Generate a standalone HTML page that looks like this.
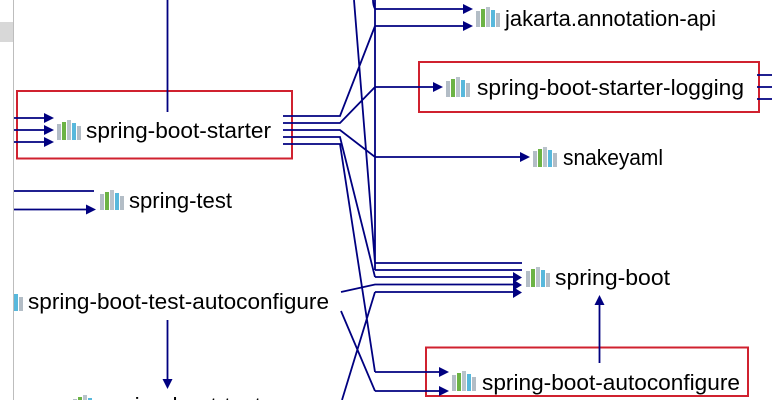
<!DOCTYPE html>
<html><head><meta charset="utf-8"><style>
html,body{margin:0;padding:0;background:#fff;width:772px;height:400px;overflow:hidden}
svg{display:block}
text{font-family:"Liberation Sans",sans-serif;font-size:22px;fill:#000}
.l{fill:none;stroke:#000080;stroke-width:1.8}
.a{fill:#000080}
.r{fill:none;stroke:#d0212f;stroke-width:2}
</style></head><body>
<svg width="772" height="400" viewBox="0 0 772 400" xmlns="http://www.w3.org/2000/svg">
<defs>
<g id="ic">
<rect x="0" y="4" width="4" height="16" fill="#b3bdc6"/>
<rect x="5" y="2" width="4" height="18" fill="#6cb345"/>
<rect x="10" y="0" width="4" height="20" fill="#b9c3cb"/>
<rect x="15" y="3" width="4" height="17" fill="#58b8dc"/>
<rect x="20" y="6" width="4" height="14" fill="#b3bdc6"/>
</g>
</defs>
<rect x="0" y="22" width="13" height="20" fill="#d8d8d8"/>
<rect x="13" y="0" width="1" height="400" fill="#bdbdbd"/>

<rect class="r" x="17" y="91" width="275" height="67.500"/>
<rect class="r" x="419" y="62" width="340" height="50"/>
<rect class="r" x="426" y="347.500" width="322" height="48.500"/>

<path class="l" d="M167.500 0V112M167.500 320V380M14 118H46M14 130H46M14 142H46M14 191H94M14 209.500H88
M283 116H340L375 26M283 123H340L375 87M283 130H340L375 157H521M283 137H340L375 277M283 144H340L375 372
M354 0L370 200L375 263M373 0Q373 5 375 9M375 0V270
M375 9H464M375 26H464M375 87H434M375 263H522M375 270H522M375 277H514M341 292L375 284.500H514M375 292H514M342 400L375 292
M341 311L375 391M375 372H440M375 391H440M757 75H772M757 87H772M757 99H772M599.500 363V303"/>

<path class="a" d="M44 113L54 118L44 123ZM44 125L54 130L44 135ZM44 137L54 142L44 147Z
M86 204.500L96 209.500L86 214.500Z
M463 4L473 9L463 14ZM463 21L473 26L463 31ZM433 82L443 87L433 92ZM520 152L530 157L520 162Z
M513 272L522 277.500L513 283ZM513 279.500L522 285L513 290.500ZM513 287L522 292.500L513 298Z
M439 367L449 372L439 377ZM439 386L449 391L439 396Z
M594.500 305L599.500 295L604.500 305ZM162.500 379L167.500 389L172.500 379Z"/>

<use href="#ic" x="57" y="120"/>
<use href="#ic" x="100" y="190"/>
<use href="#ic" x="476" y="7"/>
<use href="#ic" x="446" y="77"/>
<use href="#ic" x="533" y="147"/>
<use href="#ic" x="526" y="267"/>
<use href="#ic" x="452" y="371"/>
<use href="#ic" x="73" y="395"/>
<rect x="14" y="294" width="4" height="17" fill="#58b8dc"/>
<rect x="19" y="297" width="4" height="14" fill="#b3bdc6"/>

<text x="86" y="138" textLength="185" lengthAdjust="spacingAndGlyphs">spring-boot-starter</text>
<text x="129" y="208" textLength="103" lengthAdjust="spacingAndGlyphs">spring-test</text>
<text x="28" y="309" textLength="301" lengthAdjust="spacingAndGlyphs">spring-boot-test-autoconfigure</text>
<text x="103" y="413" textLength="158" lengthAdjust="spacingAndGlyphs">spring-boot-test</text>
<text x="505" y="26" textLength="211" lengthAdjust="spacingAndGlyphs">jakarta.annotation-api</text>
<text x="477" y="95" textLength="267" lengthAdjust="spacingAndGlyphs">spring-boot-starter-logging</text>
<text x="563" y="165" textLength="100" lengthAdjust="spacingAndGlyphs">snakeyaml</text>
<text x="555" y="285" textLength="115" lengthAdjust="spacingAndGlyphs">spring-boot</text>
<text x="482" y="390" textLength="258" lengthAdjust="spacingAndGlyphs">spring-boot-autoconfigure</text>
</svg>
</body></html>
